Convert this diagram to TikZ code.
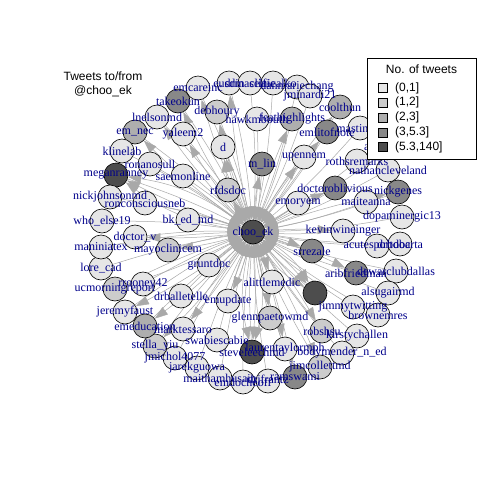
\documentclass[tikz,border=0pt]{standalone}
\usepackage{fontspec}
\setmainfont{Liberation Serif}
\newfontfamily\hvfont{Liberation Sans}
\usetikzlibrary{arrows.meta}
\definecolor{edgec}{RGB}{169,169,169}
\definecolor{labc}{RGB}{0,0,139}
\definecolor{ga}{HTML}{E6E6E6}
\definecolor{gb}{HTML}{CCCCCC}
\definecolor{gc}{HTML}{AEAEAE}
\definecolor{gd}{HTML}{888888}
\definecolor{ge}{HTML}{4D4D4D}
\pgfdeclarelayer{bg}
\pgfsetlayers{bg,main}
\def\nodelist{
choo/253/232/ge/choo\_ek,
emcareinc/198/88/ga/emcareinc,
eusdin/229/83/ga/eusdin,
topc/250/83/ga/drmaselfie,
topd/273/83/ga/clinicalko,
tope/297/87/ga/danmariechang,
jminardi/310/96/ga/jminardi21,
coolthun/340/107/gc/coolthun,
mastin/360/128/ga/mastinmd,
anode/394/146/ga/annmariemd,
takeokun/178/101/gd/takeokun,
debhoury/217/112/gb/debhoury,
hawk/257/119/ga/hawkmbouth,
high/292/119/gc/feathighlights,
lnelsonmd/157/117/ga/lnelsonmd,
emnec/135/132/gc/em\_nec,
yaleem/183/134/ga/yaleem2,
d/223/147/ga/d,
klinelab/122/151/ga/klinelab,
ronanosull/150/164/ga/ronanosull,
megan/116/175/ge/meganranney,
saemonline/183/176/ga/saemonline,
rfdsdoc/228/190/gb/rfdsdoc,
mlin/262/164/gd/m\_lin,
upennem/304/157/ga/upennem,
emlit/327/132/gd/emlitofnote,
roths/357/161/ga/rothsremarks,
nathan/388/170/ga/nathancleveland,
doctorob/335/188/gd/doctoroblivious,
nickgenes/398/192/gd/nickgenes,
emoryem/298/203/ga/emoryem,
maiteanna/366/202/ga/maiteanna,
dopa/402/217/ga/dopaminergic13,
kevin/343/231/ga/kevinwineinger,
acute/377/246/ga/acutesportdoc,
bobarta/400/244/ga/drbobarta,
srrezale/312/251/gd/srrezale,
arib/356/273/gd/aribfriedman,
dewar/396/271/ga/dewarclubdallas,
alsugair/388/293/ga/alsugairmd,
darknode/315/293/ge/{},
jimmy/353/307/ga/jimmytwitting,
browne/378/315/ga/brownemres,
kirsty/357/336/ga/kirstychallen,
robshsu/322/331/gb/robshsu,
bodym/342/353/ga/bodymender\_n\_ed,
jimcol/320/367/gb/jimcollettmd,
emswami/295/377/gd/ramswami,
laurent/285/349/ga/laurentaylormph,
steve/252/352/ge/steveleechmd,
glenn/270/318/gb/glennpaetowmd,
alittle/272/282/ga/alittlemedic,
emupdate/228/301/ga/emupdate,
swabie/217/340/ga/swabiescabie,
drjf/268/381/ga/drjfrantz,
emdoc/243/382/ga/emdocheoff,
maitham/220/378/ga/maithamhusain,
jarek/197/368/ga/jarekguowa,
jmichol/175/358/ga/jmichol4077,
stella/155/346/gb/stella\_yiu,
marktessaro/183/329/ga/marktessaro,
emedu/145/326/gc/emeducation,
jeremy/125/312/ga/jeremyfaust,
drballet/181/296/ga/drballetelle,
rrooney/143/284/ga/rrooney42,
ucmorning/115/289/gb/ucmorningreport,
lore/101/268/ga/lore\_cad,
gruntdoc/209/265/ga/gruntdoc,
mayo/168/250/gb/mayoclinicem,
maniniatex/101/247/ga/maniniatex,
doctorv/135/237/ga/doctor\_v,
whoelse/102/221/ga/who\_else19,
bked/188/220/ga/bk\_ed\_md,
roncon/145/203/ga/ronconsciousneb,
nickj/110/197/ga/nickjohnsonmd}
\begin{document}
\begin{tikzpicture}[x=1pt,y=-1pt,
  vtx/.style={circle,draw=black,line width=0.6pt,minimum size=24pt,inner sep=0pt},
  lab/.style={text=labc,font=\fontsize{12}{12}\selectfont,inner sep=0pt},
  edge/.style={draw=edgec,line width=0.5pt,-{Triangle[length=13pt,width=9pt,fill=edgec]}},
  legtext/.style={font=\hvfont\fontsize{12}{12}\selectfont,inner sep=0pt}]
\useasboundingbox (0,0) rectangle (480,480);
% vertices
\foreach \i/\x/\y/\c/\t in \nodelist {
  \node[vtx,fill=\c] (\i) at (\x,\y) {};
}
% edges
\begin{pgfonlayer}{bg}
\fill[white] (0,0) rectangle (480,480);
\foreach \i/\x/\y/\c/\t in \nodelist {
  \draw[edge,bend left=4] (\i) to (choo);
}
\foreach \i in {emcareinc,eusdin,takeokun,debhoury,yaleem,d,mlin,emlit,upennem,coolthun,megan,doctorv,mayo,jeremy,marktessaro,srrezale,darknode,robshsu,steve,laurent,doctorob,nickgenes,arib,emedu,glenn,stella,ucmorning,jimcol,emswami,rfdsdoc,lnelsonmd,emnec,high,kevin,alittle,emupdate}{
  \draw[edge,bend left=4] (choo) to (\i);
}
\foreach \i in {megan,steve,darknode}{
  \draw[edge,bend left=14] (choo) to (\i);
  \draw[edge,bend right=14] (choo) to (\i);
}
\draw[edge] (rfdsdoc) -- (d);
\end{pgfonlayer}
% labels
\foreach \i/\x/\y/\c/\t in \nodelist {
  \node[lab] (l-\i) at (\x,\y) {\t};
}
% title
\node[legtext] (title1) at (103,76) {Tweets to/from};
\node[legtext] (title2) at (103,91) {@choo\_ek};
% legend
\draw[fill=white,line width=0.6pt] (367,58) rectangle (476,159);
\node[legtext] (legtitle) at (421.5,69) {No. of tweets};
\foreach \c/\t [count=\k] in {ga/{(0,1]},gb/{(1,2]},gc/{(2,3]},gd/{(3,5.3]},ge/{(5.3,140]}}{
  \draw[fill=\c,line width=0.5pt] (378,{88+14.75*(\k-1)-4.5}) rectangle (387,{88+14.75*(\k-1)+4.5});
  \node[legtext,anchor=west] (leg\k) at (395,{88+14.75*(\k-1)}) {\t};
}
\end{tikzpicture}
\end{document}
